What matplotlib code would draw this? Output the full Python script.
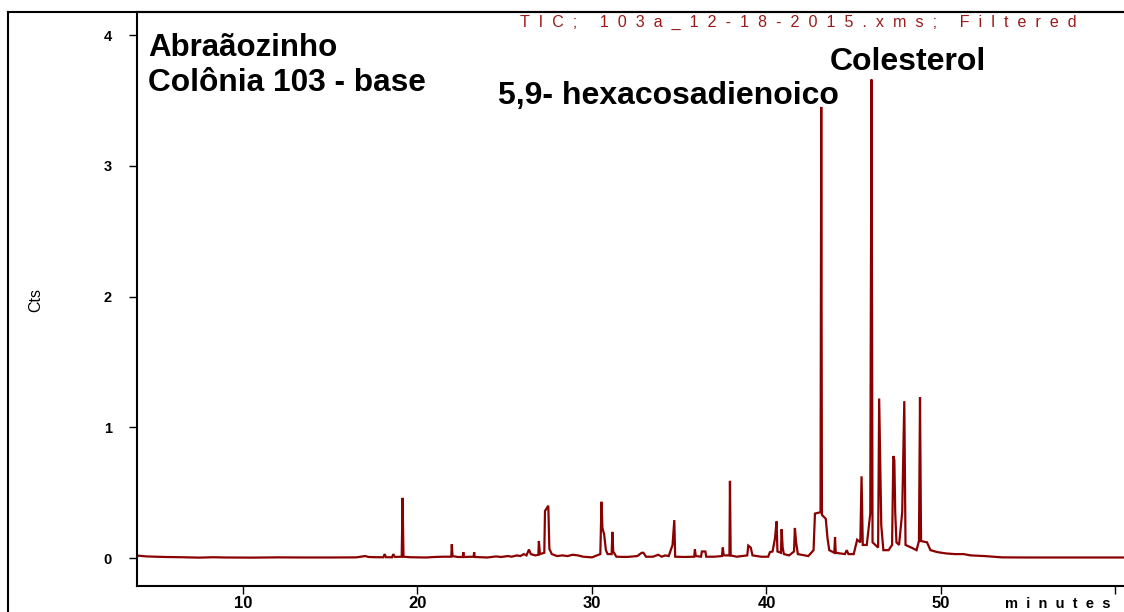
import matplotlib
matplotlib.use("Agg")
import matplotlib.pyplot as plt
from matplotlib.lines import Line2D

# ---- data ----
time_min = [
    4.0, 4.5, 5.5, 6.5, 7.5, 8.3, 9.0, 10.5, 12.0, 13.5, 15.0, 16.5,
    17.0, 17.2, 17.6, 18.05, 18.12, 18.2, 18.55, 18.62, 18.7,
    19.1, 19.15, 19.2, 19.6, 20.5, 21.0, 21.5, 21.94, 21.97, 22.01,
    22.3, 22.6, 22.63, 22.66, 23.22, 23.25, 23.28, 24.0, 24.5, 24.8,
    25.2, 25.4, 25.7, 25.9, 26.1, 26.25, 26.39, 26.5, 26.75, 26.93,
    26.96, 27.02, 27.27, 27.31, 27.5, 27.56, 27.7, 28.0, 28.3, 28.6,
    28.9, 29.2, 29.5, 30.0, 30.48, 30.55, 30.6, 30.7, 30.8, 30.9,
    31.13, 31.17, 31.22, 31.4, 32.0, 32.6, 32.85, 32.95, 33.1, 33.5,
    33.8, 34.0, 34.2, 34.4, 34.62, 34.72, 34.77, 35.3, 35.86, 35.9,
    35.95, 36.25, 36.3, 36.5, 36.55, 37.0, 37.45, 37.5, 37.55, 37.88,
    37.91, 37.95, 38.3, 38.9, 38.96, 39.1, 39.2, 39.7, 40.1, 40.2,
    40.35, 40.49, 40.58, 40.63, 40.83, 40.87, 40.93, 41.0, 41.3, 41.58,
    41.63, 41.7, 41.8, 42.2, 42.4, 42.7, 42.78, 43.1, 43.14, 43.18,
    43.4, 43.5, 43.6, 43.89, 43.93, 43.97, 44.5, 44.6, 44.7, 45.0,
    45.2, 45.38, 45.45, 45.52, 45.75, 45.95, 46.02, 46.08, 46.4, 46.46,
    46.58, 46.7, 47.0, 47.2, 47.27, 47.33, 47.38, 47.45, 47.6, 47.78,
    47.9, 47.97, 48.3, 48.6, 48.74, 48.8, 48.86, 49.2, 49.4, 49.8,
    50.3, 50.8, 51.3, 51.7, 52.5, 53.5, 55.0, 57.0, 59.0, 60.5,
]
counts = [
    0.018, 0.012, 0.008, 0.006, 0.003, 0.006, 0.004, 0.003, 0.005, 0.004, 0.004, 0.005,
    0.015, 0.008, 0.006, 0.006, 0.030, 0.006, 0.006, 0.030, 0.008,
    0.010, 0.460, 0.010, 0.006, 0.004, 0.008, 0.010, 0.010, 0.105, 0.015,
    0.008, 0.008, 0.045, 0.008, 0.010, 0.045, 0.008, 0.004, 0.012, 0.008,
    0.015, 0.010, 0.020, 0.015, 0.030, 0.020, 0.065, 0.030, 0.020, 0.025,
    0.130, 0.030, 0.040, 0.360, 0.400, 0.070, 0.030, 0.015, 0.020, 0.015,
    0.025, 0.020, 0.010, 0.005, 0.030, 0.430, 0.230, 0.180, 0.060, 0.030,
    0.030, 0.200, 0.050, 0.010, 0.008, 0.015, 0.040, 0.040, 0.010, 0.010,
    0.025, 0.010, 0.020, 0.015, 0.100, 0.290, 0.010, 0.008, 0.010, 0.065,
    0.015, 0.010, 0.050, 0.050, 0.010, 0.010, 0.015, 0.080, 0.020, 0.020,
    0.590, 0.020, 0.010, 0.020, 0.095, 0.080, 0.020, 0.010, 0.010, 0.045,
    0.050, 0.150, 0.280, 0.050, 0.040, 0.220, 0.080, 0.030, 0.020, 0.050,
    0.230, 0.120, 0.030, 0.020, 0.015, 0.060, 0.340, 0.350, 3.450, 0.330,
    0.300, 0.150, 0.060, 0.040, 0.160, 0.040, 0.030, 0.060, 0.030, 0.030,
    0.140, 0.120, 0.625, 0.100, 0.100, 0.340, 3.660, 0.120, 0.080, 1.220,
    0.250, 0.060, 0.060, 0.100, 0.780, 0.750, 0.350, 0.120, 0.100, 0.350,
    1.200, 0.100, 0.080, 0.060, 0.130, 1.230, 0.130, 0.120, 0.060, 0.045,
    0.035, 0.030, 0.030, 0.020, 0.015, 0.005, 0.004, 0.004, 0.004, 0.004,
]
x_ticks = [10, 20, 30, 40, 50, 60]
x_tick_labels = ["10", "20", "30", "40", "50", ""]
y_ticks = [0, 1, 2, 3, 4]
title_text = "TIC; 103a_12-18-2015.xms; Filtered"
sample_lines = ["Abraãozinho", "Colônia 103 - base"]
peak_labels = ["5,9- hexacosadienoico", "Colesterol"]
y_label = "Cts"
x_label = "minutes"

# ---- figure ----
W, H = 1124, 612
plt.rcParams['font.family'] = ['Liberation Sans', 'DejaVu Sans']
fig = plt.figure(figsize=(W / 100, H / 100), dpi=100)
fig.patch.set_facecolor('white')

def fx(px):
    return px / W

def fy(py):
    return 1 - py / H

left_px, right_px, top_px, bottom_px = 137, 1124, 12, 586
ax = fig.add_axes([fx(left_px), fy(bottom_px), fx(right_px - left_px), (bottom_px - top_px) / H])
ax.plot(time_min, counts, color='#8b0000', lw=1.6, solid_joinstyle='miter')
ax.set_xlim(3.93, 60.49)
ax.set_ylim(-0.214, 4.176)

ax.set_xticks(x_ticks)
ax.set_xticklabels(x_tick_labels)
ax.set_yticks(y_ticks)
ax.tick_params(axis='both', direction='out', length=6, width=1.0, colors='black')
ax.tick_params(axis='x', labelsize=12, pad=1)
ax.tick_params(axis='y', labelsize=10.5, pad=12)
for lab in ax.get_xticklabels() + ax.get_yticklabels():
    lab.set_fontweight('bold')
for s in ['left', 'bottom', 'top']:
    ax.spines[s].set_linewidth(1.5)
ax.spines['right'].set_visible(False)

# outer frame lines
fig.add_artist(Line2D([fx(8), 1.0], [fy(12), fy(12)], color='black', lw=1.5, transform=fig.transFigure))
fig.add_artist(Line2D([fx(8), fx(8)], [fy(12), 0.0], color='black', lw=1.5, transform=fig.transFigure))

# title (letter-spaced, dark red)
fig.text(fx(520), fy(22), "  ".join(title_text), color='#9a1a1a', fontsize=11.6,
         ha='left', va='center')

# sample annotation
fig.text(fx(148), fy(56), sample_lines[0], fontsize=22.5, fontweight='bold', ha='left', va='baseline')
fig.text(fx(148), fy(91), sample_lines[1], fontsize=22.8, fontweight='bold', ha='left', va='baseline')
# peak annotations
fig.text(fx(498), fy(104), peak_labels[0], fontsize=23, fontweight='bold', ha='left', va='baseline')
fig.text(fx(830), fy(70), peak_labels[1], fontsize=23, fontweight='bold', ha='left', va='baseline')

# axis labels
fig.text(fx(36), fy(300), y_label, rotation=90, fontsize=11.5, ha='center', va='center')
fig.text(fx(1005), fy(604), "  ".join(x_label), fontsize=10.5, fontweight='bold', ha='left', va='center')

fig.savefig('out.png', dpi=100, facecolor='white')
